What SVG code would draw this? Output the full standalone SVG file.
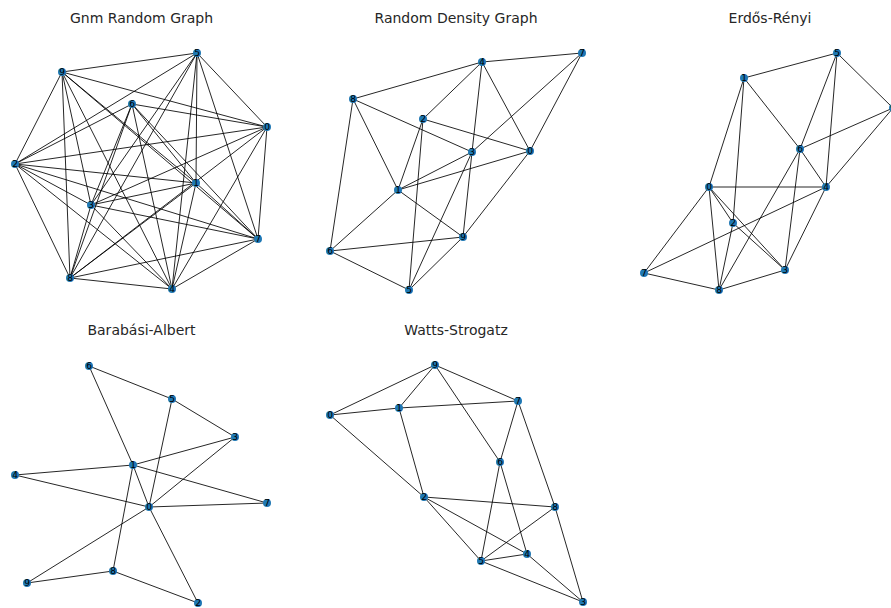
<svg xmlns="http://www.w3.org/2000/svg" width="891" height="608" viewBox="0 0 891 608">
<style>
.t{font-family:"DejaVu Sans",sans-serif;font-size:14px;fill:#262626;text-anchor:middle}
.e line{stroke:#000;stroke-width:1;stroke-opacity:0.85}
.n circle{fill:#1f78b4}
.n text{font-family:"DejaVu Sans",sans-serif;font-size:9px;fill:#000;text-anchor:middle;dominant-baseline:central}
</style>
<rect width="891" height="608" fill="#fff"/>
<text class="t" x="141.5" y="23">Gnm Random Graph</text>
<text class="t" x="456" y="23">Random Density Graph</text>
<text class="t" x="770" y="23">Erdős-Rényi</text>
<text class="t" x="141.5" y="335">Barabási-Albert</text>
<text class="t" x="456" y="335">Watts-Strogatz</text>

<g id="gnm-edges" class="e">
<line x1="197" y1="53" x2="62" y2="72"/><line x1="197" y1="53" x2="15" y2="164"/><line x1="197" y1="53" x2="91" y2="205"/><line x1="197" y1="53" x2="70" y2="278"/><line x1="197" y1="53" x2="172" y2="289"/><line x1="197" y1="53" x2="196" y2="183"/><line x1="197" y1="53" x2="258" y2="239"/><line x1="197" y1="53" x2="267" y2="127"/>
<line x1="62" y1="72" x2="267" y2="127"/><line x1="62" y1="72" x2="196" y2="183"/><line x1="62" y1="72" x2="258" y2="239"/><line x1="62" y1="72" x2="172" y2="289"/><line x1="62" y1="72" x2="91" y2="205"/><line x1="62" y1="72" x2="70" y2="278"/><line x1="62" y1="72" x2="15" y2="164"/>
<line x1="132" y1="104" x2="267" y2="127"/><line x1="132" y1="104" x2="15" y2="164"/><line x1="132" y1="104" x2="91" y2="205"/><line x1="132" y1="104" x2="70" y2="278"/><line x1="132" y1="104" x2="172" y2="289"/><line x1="132" y1="104" x2="196" y2="183"/><line x1="132" y1="104" x2="258" y2="239"/>
<line x1="267" y1="127" x2="15" y2="164"/><line x1="267" y1="127" x2="91" y2="205"/><line x1="267" y1="127" x2="70" y2="278"/><line x1="267" y1="127" x2="172" y2="289"/><line x1="267" y1="127" x2="258" y2="239"/>
<line x1="15" y1="164" x2="196" y2="183"/><line x1="15" y1="164" x2="91" y2="205"/><line x1="15" y1="164" x2="258" y2="239"/><line x1="15" y1="164" x2="172" y2="289"/><line x1="15" y1="164" x2="70" y2="278"/>
<line x1="196" y1="183" x2="91" y2="205"/><line x1="196" y1="183" x2="70" y2="278"/><line x1="196" y1="183" x2="172" y2="289"/><line x1="196" y1="183" x2="258" y2="239"/>
<line x1="91" y1="205" x2="258" y2="239"/><line x1="91" y1="205" x2="172" y2="289"/><line x1="91" y1="205" x2="70" y2="278"/>
<line x1="258" y1="239" x2="70" y2="278"/><line x1="258" y1="239" x2="172" y2="289"/>
<line x1="70" y1="278" x2="172" y2="289"/>
</g>
<g id="rdg-edges" class="e">
<line x1="353" y1="99" x2="482" y2="62"/><line x1="482" y1="62" x2="582" y2="53"/><line x1="482" y1="62" x2="423" y2="119"/><line x1="482" y1="62" x2="472" y2="152"/><line x1="482" y1="62" x2="530" y2="151"/>
<line x1="582" y1="53" x2="472" y2="152"/><line x1="582" y1="53" x2="530" y2="151"/>
<line x1="353" y1="99" x2="472" y2="152"/><line x1="353" y1="99" x2="398" y2="190"/><line x1="353" y1="99" x2="330" y2="251"/>
<line x1="423" y1="119" x2="530" y2="151"/><line x1="423" y1="119" x2="398" y2="190"/><line x1="423" y1="119" x2="409" y2="290"/>
<line x1="472" y1="152" x2="398" y2="190"/><line x1="472" y1="152" x2="409" y2="290"/><line x1="472" y1="152" x2="463" y2="237"/>
<line x1="530" y1="151" x2="398" y2="190"/><line x1="530" y1="151" x2="463" y2="237"/>
<line x1="398" y1="190" x2="463" y2="237"/><line x1="398" y1="190" x2="330" y2="251"/>
<line x1="330" y1="251" x2="463" y2="237"/><line x1="330" y1="251" x2="409" y2="290"/><line x1="463" y1="237" x2="409" y2="290"/>
</g>
<g id="er-edges" class="e">
<line x1="744" y1="78" x2="837" y2="53"/><line x1="837" y1="53" x2="893" y2="108"/><line x1="837" y1="53" x2="800" y2="149"/><line x1="837" y1="53" x2="826" y2="187"/>
<line x1="744" y1="78" x2="800" y2="149"/><line x1="744" y1="78" x2="709" y2="187"/><line x1="744" y1="78" x2="733" y2="223"/>
<line x1="709" y1="187" x2="826" y2="187"/><line x1="709" y1="187" x2="644" y2="273"/><line x1="709" y1="187" x2="733" y2="223"/><line x1="709" y1="187" x2="719" y2="290"/><line x1="709" y1="187" x2="785" y2="270"/>
<line x1="733" y1="223" x2="785" y2="270"/><line x1="733" y1="223" x2="719" y2="290"/><line x1="644" y1="273" x2="826" y2="187"/>
<line x1="719" y1="290" x2="800" y2="149"/><line x1="719" y1="290" x2="785" y2="270"/><line x1="719" y1="290" x2="644" y2="273"/>
<line x1="785" y1="270" x2="800" y2="149"/><line x1="785" y1="270" x2="826" y2="187"/><line x1="800" y1="149" x2="826" y2="187"/>
<line x1="800" y1="149" x2="893" y2="108"/><line x1="826" y1="187" x2="893" y2="108"/>
</g>
<g id="ba-edges" class="e">
<line x1="89" y1="366" x2="172" y2="399"/><line x1="89" y1="366" x2="133" y2="465"/><line x1="172" y1="399" x2="235" y2="437"/><line x1="172" y1="399" x2="149" y2="507"/>
<line x1="235" y1="437" x2="133" y2="465"/><line x1="235" y1="437" x2="149" y2="507"/><line x1="133" y1="465" x2="15" y2="475"/><line x1="133" y1="465" x2="267" y2="503"/>
<line x1="133" y1="465" x2="113" y2="571"/><line x1="133" y1="465" x2="149" y2="507"/><line x1="15" y1="475" x2="149" y2="507"/><line x1="149" y1="507" x2="267" y2="503"/>
<line x1="149" y1="507" x2="27" y2="583"/><line x1="149" y1="507" x2="198" y2="603"/><line x1="113" y1="571" x2="27" y2="583"/><line x1="113" y1="571" x2="198" y2="603"/>
</g>
<g id="ws-edges" class="e">
<line x1="330" y1="415" x2="435" y2="365"/><line x1="330" y1="415" x2="399" y2="408"/><line x1="330" y1="415" x2="424" y2="497"/>
<line x1="435" y1="365" x2="399" y2="408"/><line x1="435" y1="365" x2="518" y2="401"/><line x1="435" y1="365" x2="500" y2="462"/>
<line x1="399" y1="408" x2="518" y2="401"/><line x1="399" y1="408" x2="424" y2="497"/><line x1="518" y1="401" x2="500" y2="462"/><line x1="518" y1="401" x2="555" y2="507"/>
<line x1="500" y1="462" x2="481" y2="561"/><line x1="500" y1="462" x2="527" y2="554"/><line x1="424" y1="497" x2="555" y2="507"/><line x1="424" y1="497" x2="481" y2="561"/>
<line x1="424" y1="497" x2="527" y2="554"/><line x1="555" y1="507" x2="481" y2="561"/><line x1="555" y1="507" x2="583" y2="602"/><line x1="481" y1="561" x2="527" y2="554"/>
<line x1="481" y1="561" x2="583" y2="602"/><line x1="527" y1="554" x2="583" y2="602"/>
</g>

<g id="gnm-nodes" class="n">
<g id="gnm-0"><circle cx="267" cy="127" r="4"/><text x="267" y="127">0</text></g>
<g id="gnm-1"><circle cx="196" cy="183" r="4"/><text x="196" y="183">1</text></g>
<g id="gnm-2"><circle cx="15" cy="164" r="4"/><text x="15" y="164">2</text></g>
<g id="gnm-3"><circle cx="91" cy="205" r="4"/><text x="91" y="205">3</text></g>
<g id="gnm-4"><circle cx="172" cy="289" r="4"/><text x="172" y="289">4</text></g>
<g id="gnm-5"><circle cx="197" cy="53" r="4"/><text x="197" y="53">5</text></g>
<g id="gnm-6"><circle cx="132" cy="104" r="4"/><text x="132" y="104">6</text></g>
<g id="gnm-7"><circle cx="258" cy="239" r="4"/><text x="258" y="239">7</text></g>
<g id="gnm-8"><circle cx="70" cy="278" r="4"/><text x="70" y="278">8</text></g>
<g id="gnm-9"><circle cx="62" cy="72" r="4"/><text x="62" y="72">9</text></g>
</g>
<g id="rdg-nodes" class="n">
<g id="rdg-0"><circle cx="530" cy="151" r="4"/><text x="530" y="151">0</text></g>
<g id="rdg-1"><circle cx="398" cy="190" r="4"/><text x="398" y="190">1</text></g>
<g id="rdg-2"><circle cx="423" cy="119" r="4"/><text x="423" y="119">2</text></g>
<g id="rdg-3"><circle cx="472" cy="152" r="4"/><text x="472" y="152">3</text></g>
<g id="rdg-4"><circle cx="482" cy="62" r="4"/><text x="482" y="62">4</text></g>
<g id="rdg-5"><circle cx="409" cy="290" r="4"/><text x="409" y="290">5</text></g>
<g id="rdg-6"><circle cx="330" cy="251" r="4"/><text x="330" y="251">6</text></g>
<g id="rdg-7"><circle cx="582" cy="53" r="4"/><text x="582" y="53">7</text></g>
<g id="rdg-8"><circle cx="353" cy="99" r="4"/><text x="353" y="99">8</text></g>
<g id="rdg-9"><circle cx="463" cy="237" r="4"/><text x="463" y="237">9</text></g>
</g>
<g id="er-nodes" class="n">
<g id="er-0"><circle cx="709" cy="187" r="4"/><text x="709" y="187">0</text></g>
<g id="er-1"><circle cx="744" cy="78" r="4"/><text x="744" y="78">1</text></g>
<g id="er-2"><circle cx="733" cy="223" r="4"/><text x="733" y="223">2</text></g>
<g id="er-3"><circle cx="785" cy="270" r="4"/><text x="785" y="270">3</text></g>
<g id="er-4"><circle cx="826" cy="187" r="4"/><text x="826" y="187">4</text></g>
<g id="er-5"><circle cx="837" cy="53" r="4"/><text x="837" y="53">5</text></g>
<g id="er-6"><circle cx="800" cy="149" r="4"/><text x="800" y="149">6</text></g>
<g id="er-7"><circle cx="644" cy="273" r="4"/><text x="644" y="273">7</text></g>
<g id="er-8"><circle cx="719" cy="290" r="4"/><text x="719" y="290">8</text></g>
<g id="er-9"><circle cx="893" cy="108" r="4"/><text x="893" y="108">9</text></g>
</g>
<g id="ba-nodes" class="n">
<g id="ba-0"><circle cx="149" cy="507" r="4"/><text x="149" y="507">0</text></g>
<g id="ba-1"><circle cx="133" cy="465" r="4"/><text x="133" y="465">1</text></g>
<g id="ba-2"><circle cx="198" cy="603" r="4"/><text x="198" y="603">2</text></g>
<g id="ba-3"><circle cx="235" cy="437" r="4"/><text x="235" y="437">3</text></g>
<g id="ba-4"><circle cx="15" cy="475" r="4"/><text x="15" y="475">4</text></g>
<g id="ba-5"><circle cx="172" cy="399" r="4"/><text x="172" y="399">5</text></g>
<g id="ba-6"><circle cx="89" cy="366" r="4"/><text x="89" y="366">6</text></g>
<g id="ba-7"><circle cx="267" cy="503" r="4"/><text x="267" y="503">7</text></g>
<g id="ba-8"><circle cx="113" cy="571" r="4"/><text x="113" y="571">8</text></g>
<g id="ba-9"><circle cx="27" cy="583" r="4"/><text x="27" y="583">9</text></g>
</g>
<g id="ws-nodes" class="n">
<g id="ws-0"><circle cx="330" cy="415" r="4"/><text x="330" y="415">0</text></g>
<g id="ws-1"><circle cx="399" cy="408" r="4"/><text x="399" y="408">1</text></g>
<g id="ws-2"><circle cx="424" cy="497" r="4"/><text x="424" y="497">2</text></g>
<g id="ws-3"><circle cx="583" cy="602" r="4"/><text x="583" y="602">3</text></g>
<g id="ws-4"><circle cx="527" cy="554" r="4"/><text x="527" y="554">4</text></g>
<g id="ws-5"><circle cx="481" cy="561" r="4"/><text x="481" y="561">5</text></g>
<g id="ws-6"><circle cx="500" cy="462" r="4"/><text x="500" y="462">6</text></g>
<g id="ws-7"><circle cx="518" cy="401" r="4"/><text x="518" y="401">7</text></g>
<g id="ws-8"><circle cx="555" cy="507" r="4"/><text x="555" y="507">8</text></g>
<g id="ws-9"><circle cx="435" cy="365" r="4"/><text x="435" y="365">9</text></g>
</g>
</svg>
